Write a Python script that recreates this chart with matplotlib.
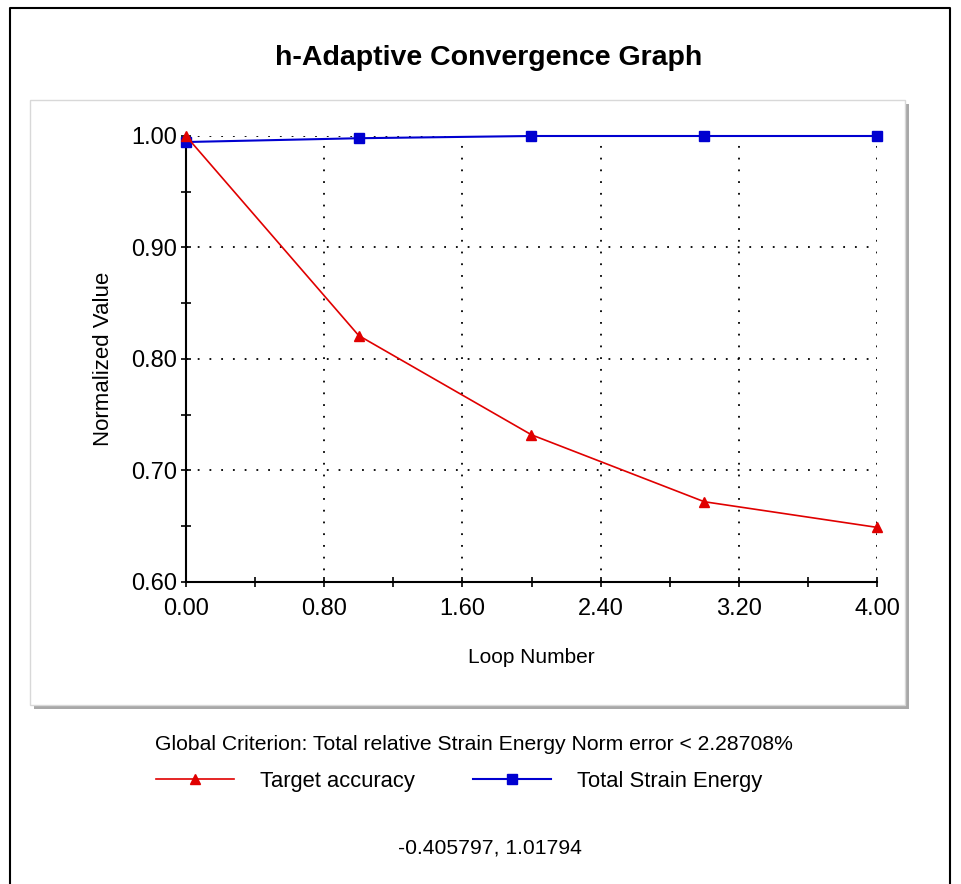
import matplotlib.pyplot as plt
from matplotlib.patches import Rectangle
from matplotlib.lines import Line2D
from matplotlib.ticker import MultipleLocator, FormatStrFormatter

plt.rcParams['font.family'] = ['Liberation Sans', 'DejaVu Sans']

# данные
loops = [0, 1, 2, 3, 4]
target_accuracy = [1.000, 0.821, 0.732, 0.672, 0.649]
strain_energy = [0.9946, 0.998, 1.000, 1.000, 1.000]

title = 'h-Adaptive Convergence Graph'
criterion = 'Global Criterion: Total relative Strain Energy Norm error < 2.28708%'
cursor_text = '-0.405797, 1.01794'

fig = plt.figure(figsize=(9.62, 8.84), dpi=100)
W, H = 962, 884

# внешняя рамка (снизу обрезана)
fig.add_artist(Line2D([10 / W, 10 / W, 950 / W, 950 / W], [0, 1 - 8 / H, 1 - 8 / H, 0],
                      transform=fig.transFigure, color='black', linewidth=1.5))
# панель графика с тенью
fig.patches.append(Rectangle((34 / W, 1 - 709 / H), 875 / W, 605 / H, transform=fig.transFigure,
                             facecolor='#a8a8a8', edgecolor='none', zorder=-2))
fig.patches.append(Rectangle((30 / W, 1 - 705 / H), 875 / W, 605 / H, transform=fig.transFigure,
                             facecolor='white', edgecolor='#d8d8d8', linewidth=1, zorder=-1))

ax = fig.add_axes([186 / W, 1 - 582 / H, 691 / W, 446 / H])
ax.set_facecolor('none')
ax.set_zorder(2)

ax.plot(loops, target_accuracy, color='#e00000', linewidth=1.2, marker='^',
        markersize=7, label='Target accuracy', clip_on=False, zorder=4)
ax.plot(loops, strain_energy, color='#0000d0', linewidth=1.5, marker='s',
        markersize=7, label='Total Strain Energy', clip_on=False, zorder=3)

ax.set_xlim(0, 4)
ax.set_ylim(0.6, 1.0)
ax.xaxis.set_major_locator(MultipleLocator(0.8))
ax.xaxis.set_minor_locator(MultipleLocator(0.4))
ax.yaxis.set_major_locator(MultipleLocator(0.1))
ax.yaxis.set_minor_locator(MultipleLocator(0.05))
ax.xaxis.set_major_formatter(FormatStrFormatter('%.2f'))
ax.yaxis.set_major_formatter(FormatStrFormatter('%.2f'))

for s in ['top', 'right']:
    ax.spines[s].set_visible(False)
for s in ['left', 'bottom']:
    ax.spines[s].set_linewidth(1.5)

ax.tick_params(which='both', direction='inout', length=7, width=1.2, labelsize=17)
ax.tick_params(axis='x', pad=8)
ax.tick_params(axis='y', pad=3)

ax.grid(True, which='major', color='black', linestyle=(0, (1, 5.5)), linewidth=1.3)

ax.set_xlabel('Loop Number', fontsize=15, labelpad=20)
ax.set_ylabel('Normalized Value', fontsize=16, labelpad=12)

fig.text(489 / W, 1 - 58 / H, title, ha='center', va='center', fontsize=20.5, fontweight='bold')
fig.text(474 / W, 1 - 745 / H, criterion, ha='center', va='center', fontsize=15.2)
fig.text(490 / W, 1 - 848 / H, cursor_text, ha='center', va='center', fontsize=15.2)

fig.legend(loc='center', bbox_to_anchor=(459 / W, 1 - 781 / H), ncol=2, frameon=False,
           fontsize=15.8, handlelength=3.55, handletextpad=1.2, columnspacing=2.65)

fig.savefig('out.png', dpi=100)
